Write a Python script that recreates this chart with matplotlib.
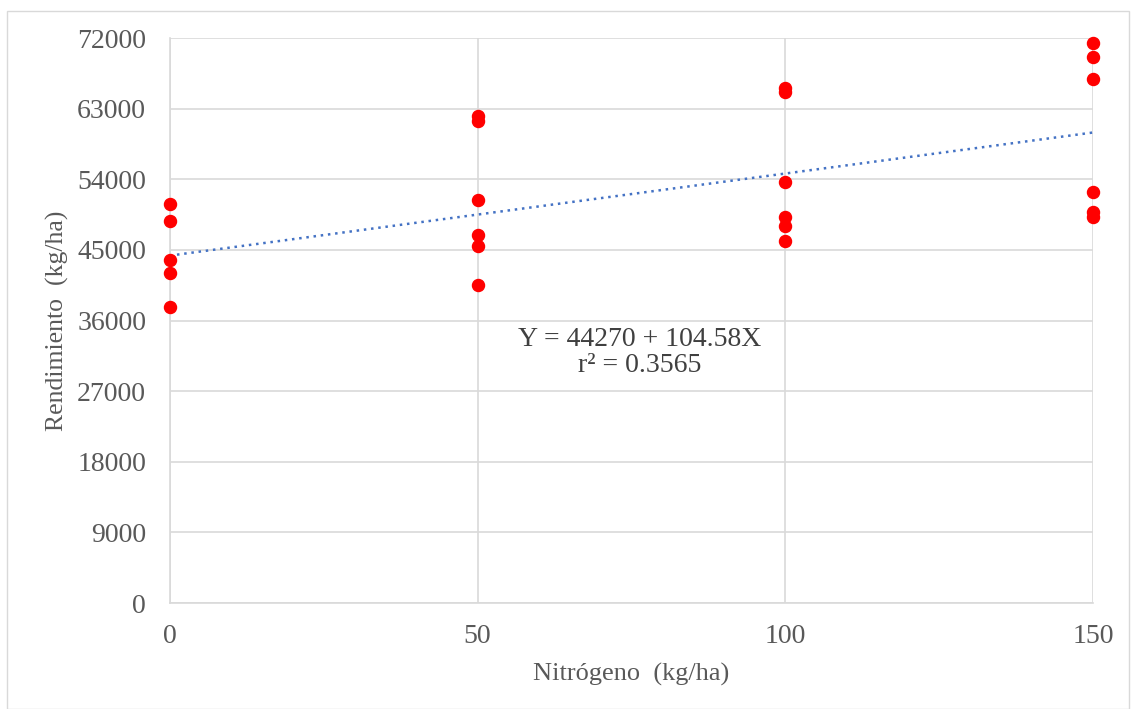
import matplotlib.pyplot as plt
import numpy as np
from matplotlib.patches import Rectangle

plt.rcParams['font.family'] = ['Liberation Serif', 'DejaVu Serif']

nitrogen = [0, 0, 0, 0, 0,
            50, 50, 50, 50, 50, 50,
            100, 100, 100, 100, 100, 100,
            150, 150, 150, 150, 150, 150]
yield_kg = [50850, 48680, 43710, 42050, 37720,
            62100, 61460, 51320, 46940, 45500, 40520,
            65570, 65120, 53650, 49230, 48080, 46090,
            71330, 69620, 66780, 52340, 49870, 49230]

intercept = 44270
slope = 104.58
r2 = 0.3565

x_ticks = [0, 50, 100, 150]
y_ticks = np.arange(0, 72001, 9000)

fig = plt.figure(figsize=(11.32, 7.09), dpi=100)
ax = fig.add_axes([0.150, 0.1495, 0.8155, 0.7969])

# frame around the whole chart
fig.patches.append(Rectangle((0.006, 0.0), 0.991, 0.985, transform=fig.transFigure,
                             fill=False, edgecolor='#d9d9d9', linewidth=1))

xt = np.array([0, 150])
ax.plot(xt, intercept + slope * xt, color='#4472C4', linestyle=(0, (1, 1.9)),
        linewidth=1.8, zorder=2)
ax.scatter(nitrogen, yield_kg, s=75, color='#FF0000', zorder=3, clip_on=False)

ax.set_xlim(0, 150)
ax.set_ylim(0, 72000)
ax.set_xticks(x_ticks)
ax.set_yticks(y_ticks)
ax.grid(True, color='#d9d9d9', linewidth=1.2)
ax.set_axisbelow(True)
for s in ['top', 'right']:
    ax.spines[s].set_visible(False)
for s in ['left', 'bottom']:
    ax.spines[s].set_color('#d9d9d9')
    ax.spines[s].set_linewidth(1.2)
ax.tick_params(axis='y', length=0, labelsize=20, labelcolor='#595959', pad=17)
ax.tick_params(axis='x', length=0, labelsize=20, labelcolor='#595959', pad=15)

ax.set_xlabel('Nitrógeno  (kg/ha)', fontsize=19, color='#595959', labelpad=10)
ax.set_ylabel('Rendimiento  (kg/ha)', fontsize=18.5, color='#595959', labelpad=6)

ax.text(76.4, 31900, f'Y = {intercept} + {slope}X\nr² = {r2}', ha='center', va='center',
        fontsize=20, color='#404040', linespacing=1.05)

fig.savefig('out.png', dpi=100)
